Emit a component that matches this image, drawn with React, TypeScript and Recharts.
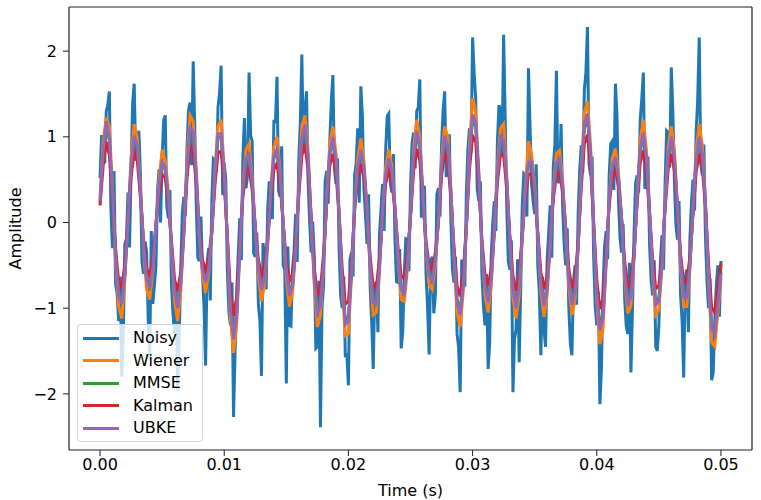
import React from 'react';
import { LineChart, Line, XAxis, YAxis, Legend, ReferenceLine } from 'recharts';

// filtered outputs: 201 samples, 0.25 ms apart (0 .. 0.05 s)
// noisy input: the same samples plus one in between each pair
const SAMPLE_STEP = 0.00025;

const noisy = [
  0.52, 0.88, 1.3, 1.53, -0.3, -0.72, -1.15, -1.8, -0.25, 0.35,
  0.62, 1.62, 0.95, 0.58, -0.6, -0.35, -1.6, -0.95, -0.5, 0.62,
  0.75, 1.25, 0.05, -0.72, -1.3, -1.97, -0.55, 0.3, 0.85, 1.4,
  1.88, 0.2, -0.45, -0.6, -1.67, -0.3, 0.25, 0.72, 1.35, 1.83,
  0.7, -0.55, -1.2, -2.27, -0.85, 0.05, 0.75, 0.4, 1.75, 0.95,
  -0.4, -0.95, -1.79, -0.4, 0.15, 0.3, 1.2, 1.7, 0.3, -0.5,
  -1.88, -1.2, -0.55, 0.1, 0.72, 1.96, 1.3, 0.5, -0.35, -0.4,
  -1.45, -2.39, -0.75, 0.6, 0.95, 1.72, 0.45, -0.3, -1.0, -1.55,
  -1.9, -0.35, 0.55, 1.1, 1.59, 0.4, -0.25, -0.75, -1.71, -0.7,
  -0.15, 0.45, 0.85, 1.27, 0.35, -0.2, -0.7, -1.47, -0.6, -0.2,
  0.4, 1.05, 1.3, 1.67, 0.1, -0.6, -1.54, -0.4, -0.85, 0.4,
  0.9, 1.53, 0.65, 0.05, -0.7, -1.3, -1.98, -0.45, 0.35, 1.1,
  2.16, 1.45, 0.25, -0.6, -1.2, -1.71, -0.4, 0.25, 0.95, 1.3,
  2.19, 0.2, -0.55, -1.98, -1.25, -1.63, 0.2, 0.55, 1.8, 0.45,
  0.1, -0.5, -1.55, -1.25, -0.45, 0.2, 0.65, 1.77, 0.5, 0.2,
  -0.5, -1.0, -1.55, -0.5, 0.1, 0.9, 1.55, 2.28, 0.55, -0.4,
  -1.2, -2.12, -0.8, -0.1, 0.55, 0.95, 1.62, 0.25, -0.35, -0.9,
  -1.3, -1.75, -0.15, 0.55, 1.2, 1.75, 0.5, -0.25, -0.85, -1.45,
  -1.2, -0.15, 0.45, 1.05, 1.81, 0.5, -0.2, -0.85, -1.81, -0.55,
  -0.2, 0.5, 1.05, 2.16, 0.55, -0.15, -1.0, -1.84, -1.15, -0.5,
  -0.45,
];

// noisy samples half way between the ones above
const noisyMid = [
  1.02, 0.69, 1.37, 0.16, 0.6, -0.83, -0.63, -1.3, -0.19, -0.29,
  1.39, 0.72, 1.07, -0.46, -0.22, -1.11, -0.1, -0.74, 0.36, 0.0,
  1.2, 0.19, 0.38, -1.07, -0.71, -1.33, 0.11, 0.08, 1.31, 0.67,
  1.13, -0.41, 0.07, -0.99, -0.47, -0.91, 0.74, 0.59, 1.51, 0.32,
  0.5, -1.04, -0.7, -1.51, -0.38, -0.44, 1.22, 0.55, 1.02, -0.36,
  -0.12, -1.15, -0.24, -0.78, 0.48, 0.04, 1.16, 0.37, 0.89, -0.55,
  -0.28, -1.21, -0.34, -0.46, 1.15, 0.82, 1.53, 0.02, 0.01, -1.47,
  -0.68, -0.98, 0.48, 0.22, 1.42, 0.63, 0.75, -0.85, -0.63, -1.54,
  -0.43, -0.63, 0.69, 0.23, 1.24, 0.09, 0.33, -1.16, -0.72, -1.28,
  0.15, -0.1, 1.24, 0.46, 0.8, -0.69, -0.31, -1.28, -0.19, -0.57,
  0.92, 0.63, 1.34, 0.06, 0.43, -0.99, -0.45, -1.06, 0.33, 0.07,
  1.31, 0.53, 1.03, -0.54, -0.4, -1.46, -0.45, -0.75, 0.86, 0.81,
  1.74, 0.39, 0.48, -0.98, -0.6, -1.41, -0.01, -0.1, 1.37, 0.79,
  1.21, -0.45, -0.21, -1.36, -0.43, -0.77, 0.57, 0.07, 1.13, 0.25,
  0.68, -0.82, -0.63, -1.45, -0.13, -0.41, 0.91, 0.46, 1.15, -0.26,
  -0.07, -1.42, -0.68, -0.96, 0.61, 0.58, 1.75, 0.69, 0.77, -0.98,
  -0.81, -1.71, -0.29, -0.43, 0.92, 0.38, 1.26, -0.18, -0.02, -1.21,
  -0.47, -1.0, 0.46, 0.35, 1.44, 0.39, 0.77, -0.67, -0.44, -1.5,
  -0.46, -0.55, 1.07, 0.64, 1.3, -0.03, 0.25, -1.16, -0.64, -1.28,
  0.23, 0.14, 1.42, 0.68, 0.91, -0.68, -0.65, -1.75, -0.74, -1.1,
];

const wiener = [
  0.3, 0.95, 1.22, 1.12, 0.4, -0.45, -0.98, -1.12, -0.66, 0.05,
  0.76, 1.15, 0.98, 0.42, -0.3, -0.78, -0.9, -0.58, -0.02, 0.5,
  0.85, 0.72, 0.36, -0.3, -0.92, -1.15, -0.8, -0.1, 0.72, 1.25,
  1.18, 0.62, -0.18, -0.62, -0.82, -0.58, -0.1, 0.62, 1.12, 1.2,
  0.62, -0.22, -1.12, -1.52, -1.2, -0.35, 0.42, 0.85, 0.92, 0.52,
  -0.08, -0.62, -0.92, -0.72, -0.25, 0.4, 0.88, 1.0, 0.6, -0.03,
  -0.65, -0.98, -0.82, -0.32, 0.42, 1.12, 1.25, 0.85, 0.03, -0.72,
  -1.22, -1.08, -0.5, 0.3, 0.92, 1.12, 0.8, 0.1, -0.76, -1.32,
  -1.3, -0.62, 0.2, 0.74, 0.98, 0.72, 0.15, -0.56, -1.08, -1.05,
  -0.58, 0.12, 0.64, 0.85, 0.66, 0.18, -0.42, -0.9, -0.92, -0.55,
  0.1, 0.84, 1.2, 1.0, 0.35, -0.3, -0.72, -0.78, -0.5, 0.04,
  0.75, 1.12, 1.0, 0.4, -0.4, -1.05, -1.22, -0.8, -0.05, 0.88,
  1.45, 1.3, 0.6, -0.28, -0.85, -1.05, -0.74, -0.1, 0.66, 1.1,
  1.15, 0.55, -0.22, -0.88, -1.12, -0.85, -0.18, 0.42, 0.95, 0.8,
  0.44, -0.16, -0.8, -1.1, -0.86, -0.25, 0.38, 0.8, 0.84, 0.48,
  -0.1, -0.76, -1.08, -0.9, -0.32, 0.58, 1.28, 1.42, 0.9, -0.02,
  -0.92, -1.42, -1.24, -0.5, 0.28, 0.75, 0.86, 0.58, 0.04, -0.65,
  -1.06, -0.97, -0.44, 0.32, 0.96, 1.2, 0.84, 0.13, -0.62, -1.08,
  -1.02, -0.52, 0.22, 0.88, 1.12, 0.85, 0.18, -0.52, -0.98, -0.98,
  -0.55, 0.16, 0.84, 1.15, 0.9, 0.25, -0.68, -1.4, -1.45, -1.05,
  -0.65,
];

const mmse = [
  0.24, 0.8, 1.13, 0.96, 0.34, -0.36, -0.83, -0.92, -0.59, 0.02,
  0.64, 0.97, 0.87, 0.35, -0.24, -0.65, -0.74, -0.5, -0.04, 0.41,
  0.68, 0.62, 0.29, -0.25, -0.79, -0.96, -0.69, -0.11, 0.61, 1.07,
  1.03, 0.52, -0.13, -0.53, -0.68, -0.51, -0.12, 0.52, 0.99, 1.0,
  0.55, -0.18, -0.97, -1.31, -1.05, -0.31, 0.35, 0.72, 0.76, 0.45,
  -0.06, -0.52, -0.75, -0.62, -0.22, 0.33, 0.75, 0.83, 0.53, -0.01,
  -0.54, -0.82, -0.72, -0.29, 0.36, 0.94, 1.09, 0.74, 0.05, -0.62,
  -1.02, -0.94, -0.43, 0.25, 0.79, 0.96, 0.69, 0.11, -0.65, -1.14,
  -1.1, -0.56, 0.16, 0.63, 0.82, 0.62, 0.14, -0.48, -0.9, -0.91,
  -0.5, 0.11, 0.54, 0.72, 0.58, 0.16, -0.36, -0.75, -0.8, -0.47,
  0.08, 0.72, 1.03, 0.86, 0.31, -0.26, -0.6, -0.66, -0.42, 0.02,
  0.64, 0.97, 0.86, 0.35, -0.34, -0.89, -1.04, -0.7, -0.05, 0.75,
  1.21, 1.12, 0.52, -0.24, -0.73, -0.89, -0.64, -0.1, 0.56, 0.96,
  0.93, 0.47, -0.19, -0.75, -0.96, -0.73, -0.16, 0.36, 0.67, 0.68,
  0.37, -0.13, -0.69, -0.93, -0.75, -0.22, 0.33, 0.67, 0.71, 0.42,
  -0.08, -0.65, -0.92, -0.78, -0.28, 0.48, 1.1, 1.22, 0.78, -0.02,
  -0.8, -1.21, -1.07, -0.43, 0.24, 0.63, 0.73, 0.5, 0.04, -0.56,
  -0.9, -0.84, -0.38, 0.27, 0.83, 1.01, 0.72, 0.12, -0.53, -0.92,
  -0.88, -0.45, 0.19, 0.75, 0.96, 0.73, 0.16, -0.44, -0.84, -0.84,
  -0.47, 0.13, 0.71, 0.96, 0.77, 0.22, -0.58, -1.19, -1.26, -0.91,
  -0.58,
];

const kalman = [
  0.2, 0.66, 0.94, 0.79, 0.28, -0.3, -0.69, -0.76, -0.49, 0.02,
  0.54, 0.81, 0.72, 0.29, -0.2, -0.54, -0.62, -0.42, -0.03, 0.34,
  0.56, 0.52, 0.24, -0.21, -0.66, -0.8, -0.58, -0.09, 0.51, 0.89,
  0.86, 0.43, -0.11, -0.44, -0.56, -0.42, -0.1, 0.43, 0.82, 0.83,
  0.46, -0.15, -0.81, -1.09, -0.87, -0.26, 0.29, 0.6, 0.63, 0.38,
  -0.05, -0.43, -0.62, -0.52, -0.18, 0.27, 0.62, 0.69, 0.44, -0.01,
  -0.45, -0.68, -0.6, -0.24, 0.3, 0.78, 0.91, 0.62, 0.04, -0.52,
  -0.85, -0.78, -0.36, 0.21, 0.66, 0.8, 0.58, 0.09, -0.54, -0.95,
  -0.92, -0.46, 0.14, 0.53, 0.68, 0.52, 0.12, -0.4, -0.75, -0.76,
  -0.42, 0.09, 0.45, 0.6, 0.48, 0.14, -0.3, -0.62, -0.66, -0.39,
  0.06, 0.6, 0.86, 0.72, 0.26, -0.22, -0.5, -0.55, -0.35, 0.02,
  0.54, 0.81, 0.72, 0.29, -0.28, -0.74, -0.86, -0.58, -0.04, 0.62,
  1.01, 0.94, 0.43, -0.2, -0.61, -0.74, -0.54, -0.08, 0.46, 0.8,
  0.78, 0.39, -0.16, -0.62, -0.8, -0.61, -0.14, 0.3, 0.56, 0.57,
  0.31, -0.11, -0.58, -0.78, -0.62, -0.18, 0.27, 0.56, 0.59, 0.35,
  -0.06, -0.54, -0.77, -0.65, -0.23, 0.4, 0.92, 1.02, 0.65, -0.02,
  -0.66, -1.01, -0.89, -0.36, 0.2, 0.53, 0.61, 0.42, 0.03, -0.46,
  -0.75, -0.7, -0.32, 0.22, 0.69, 0.84, 0.6, 0.1, -0.44, -0.77,
  -0.74, -0.38, 0.16, 0.62, 0.8, 0.61, 0.14, -0.37, -0.7, -0.7,
  -0.39, 0.11, 0.59, 0.8, 0.64, 0.18, -0.48, -0.99, -1.05, -0.76,
  -0.48,
];

const ubke = [
  0.25, 0.83, 1.18, 0.99, 0.35, -0.37, -0.86, -0.95, -0.61, 0.02,
  0.67, 1.01, 0.9, 0.36, -0.25, -0.67, -0.77, -0.52, -0.04, 0.43,
  0.7, 0.65, 0.3, -0.26, -0.82, -1.0, -0.72, -0.11, 0.64, 1.11,
  1.07, 0.54, -0.14, -0.55, -0.7, -0.53, -0.12, 0.54, 1.03, 1.04,
  0.57, -0.19, -1.01, -1.36, -1.09, -0.32, 0.36, 0.75, 0.79, 0.47,
  -0.06, -0.54, -0.78, -0.65, -0.23, 0.34, 0.78, 0.86, 0.55, -0.01,
  -0.56, -0.85, -0.75, -0.3, 0.37, 0.98, 1.14, 0.77, 0.05, -0.65,
  -1.06, -0.98, -0.45, 0.26, 0.82, 1.0, 0.72, 0.11, -0.68, -1.19,
  -1.15, -0.58, 0.17, 0.66, 0.85, 0.65, 0.15, -0.5, -0.94, -0.95,
  -0.52, 0.11, 0.56, 0.75, 0.6, 0.17, -0.38, -0.78, -0.83, -0.49,
  0.08, 0.75, 1.07, 0.9, 0.32, -0.27, -0.62, -0.69, -0.44, 0.02,
  0.67, 1.01, 0.9, 0.36, -0.35, -0.93, -1.08, -0.73, -0.05, 0.78,
  1.26, 1.17, 0.54, -0.25, -0.76, -0.93, -0.67, -0.1, 0.58, 1.0,
  0.97, 0.49, -0.2, -0.78, -1.0, -0.76, -0.17, 0.37, 0.7, 0.71,
  0.39, -0.14, -0.72, -0.97, -0.78, -0.23, 0.34, 0.7, 0.74, 0.44,
  -0.08, -0.68, -0.96, -0.81, -0.29, 0.5, 1.15, 1.27, 0.81, -0.02,
  -0.83, -1.26, -1.11, -0.45, 0.25, 0.66, 0.76, 0.52, 0.04, -0.58,
  -0.94, -0.87, -0.4, 0.28, 0.86, 1.05, 0.75, 0.12, -0.55, -0.96,
  -0.92, -0.47, 0.2, 0.78, 1.0, 0.76, 0.17, -0.46, -0.87, -0.88,
  -0.49, 0.14, 0.74, 1.0, 0.8, 0.23, -0.6, -1.24, -1.31, -0.95,
  -0.6,
];

const xTicks = [0, 0.01, 0.02, 0.03, 0.04, 0.05];
const yTicks = [-2, -1, 0, 1, 2];
const X_DOMAIN = [-0.0025, 0.0525];
const Y_DOMAIN = [-2.655, 2.515];

const series = [
  { key: 'noisy', name: 'Noisy', color: '#1f77b4' },
  { key: 'wiener', name: 'Wiener', color: '#ff7f0e' },
  { key: 'mmse', name: 'MMSE', color: '#2ca02c' },
  { key: 'kalman', name: 'Kalman', color: '#d62728' },
  { key: 'ubke', name: 'UBKE', color: '#9467bd' },
];

const data: Record<string, number>[] = [];
noisy.forEach((v, i) => {
  data.push({
    t: Number((i * SAMPLE_STEP).toFixed(6)),
    noisy: v,
    wiener: wiener[i],
    mmse: mmse[i],
    kalman: kalman[i],
    ubke: ubke[i],
  });
  if (i < noisyMid.length) {
    data.push({ t: Number(((i + 0.5) * SAMPLE_STEP).toFixed(6)), noisy: noisyMid[i] });
  }
});

const FONT = 'DejaVu Sans, sans-serif';
const FRAME = '#222';

const fmtY = (v: number) => (v < 0 ? `\u2212${Math.abs(v)}` : `${v}`);

const LegendBox = () => (
  <div
    style={{
      position: 'relative',
      width: 126,
      height: 118,
      boxSizing: 'border-box',
      background: 'rgba(255,255,255,0.8)',
      border: '1px solid #d3d3d3',
      borderRadius: 4,
      fontFamily: FONT,
      fontSize: 16,
      color: '#000',
    }}
  >
    {series.map((s, i) => (
      <div
        key={s.key}
        style={{ position: 'absolute', left: 5, top: 2 + i * 22.5, height: 22, display: 'flex', alignItems: 'center' }}
      >
        <div style={{ width: 36, height: 3, background: s.color }} />
        <span style={{ marginLeft: 14, lineHeight: '22px' }}>{s.name}</span>
      </div>
    ))}
  </div>
);

export default function App() {
  return (
    <div style={{ position: 'absolute', left: 0, top: 0, width: 761, height: 500, background: '#fff' }}>
      <LineChart width={761} height={500} data={data} margin={{ top: 7, right: 9, bottom: 0, left: 9 }}>
        <XAxis
          dataKey="t"
          type="number"
          domain={X_DOMAIN}
          ticks={xTicks}
          tickFormatter={(v: number) => v.toFixed(2)}
          allowDataOverflow
          height={50}
          tickSize={6}
          tickMargin={3}
          axisLine={{ stroke: FRAME, strokeWidth: 1.2 }}
          tickLine={{ stroke: FRAME }}
          tick={{ fill: '#000', fontSize: 16, fontFamily: FONT }}
          label={{ value: 'Time (s)', position: 'insideBottom', offset: 4, fill: '#000', fontSize: 16, fontFamily: FONT }}
        />
        <YAxis
          type="number"
          domain={Y_DOMAIN}
          ticks={yTicks}
          tickFormatter={fmtY}
          allowDataOverflow
          width={60}
          tickSize={6}
          tickMargin={6}
          axisLine={{ stroke: FRAME, strokeWidth: 1.2 }}
          tickLine={{ stroke: FRAME }}
          tick={{ fill: '#000', fontSize: 16, fontFamily: FONT }}
          label={{
            value: 'Amplitude',
            angle: -90,
            position: 'insideLeft',
            offset: 6,
            style: { textAnchor: 'middle' },
            fill: '#000',
            fontSize: 16,
            fontFamily: FONT,
          }}
        />
        {series.map((s) => (
          <Line
            key={s.key}
            type="linear"
            dataKey={s.key}
            name={s.name}
            stroke={s.color}
            strokeWidth={3}
            dot={false}
            activeDot={false}
            connectNulls
            isAnimationActive={false}
          />
        ))}
        {/* top and right spines of the frame */}
        <ReferenceLine y={Y_DOMAIN[1]} stroke={FRAME} strokeWidth={1.2} />
        <ReferenceLine x={X_DOMAIN[1]} stroke={FRAME} strokeWidth={1.2} />
        <Legend
          verticalAlign="middle"
          align="center"
          layout="horizontal"
          wrapperStyle={{ position: 'absolute', left: 77, top: 324, width: 126, height: 118 }}
          content={() => <LegendBox />}
        />
      </LineChart>
    </div>
  );
}
